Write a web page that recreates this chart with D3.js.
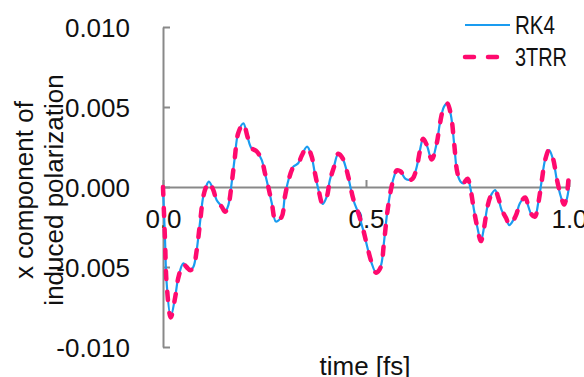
<!DOCTYPE html>
<html>
<head>
<meta charset="utf-8">
<script src="https://cdn.jsdelivr.net/npm/d3@7"></script>
<style>
  html, body { margin: 0; padding: 0; background: #fff; }
  svg { display: block; font-family: 'Liberation Sans', Arial, sans-serif; }
</style>
</head>
<body>
<svg id="chart" width="584" height="377"></svg>
<script>
// time [fs]
const time = [0, 0.005, 0.009, 0.019, 0.030, 0.038, 0.050, 0.058, 0.067, 0.075, 0.083, 0.091, 0.099, 0.106, 0.113,
  0.124, 0.132, 0.145, 0.153, 0.161, 0.169, 0.177, 0.185, 0.198, 0.208, 0.218, 0.231, 0.243, 0.251, 0.259, 0.268,
  0.278, 0.292, 0.300, 0.309, 0.321, 0.333, 0.342, 0.355, 0.366, 0.374, 0.383, 0.393, 0.403, 0.411, 0.421, 0.432,
  0.444, 0.456, 0.469, 0.481, 0.493, 0.503, 0.514, 0.525, 0.536, 0.544, 0.552, 0.561, 0.569, 0.576, 0.585, 0.596,
  0.604, 0.615, 0.625, 0.633, 0.641, 0.651, 0.662, 0.674, 0.682, 0.692, 0.700, 0.709, 0.717, 0.725, 0.733, 0.740,
  0.750, 0.758, 0.766, 0.774, 0.783, 0.791, 0.799, 0.807, 0.818, 0.826, 0.834, 0.845, 0.853, 0.863, 0.871, 0.879,
  0.892, 0.900, 0.908, 0.916, 0.924, 0.933, 0.941, 0.951, 0.961, 0.970, 0.980, 0.988, 0.994, 1.000];

// x component of induced polarization, RK4
const rk4 = [0, -0.00331, -0.00600, -0.00811, -0.00686, -0.00561, -0.00477, -0.00498, -0.00519, -0.00498, -0.00394,
  -0.00225, -0.00061, 0.00002, 0.00033, -0.00019, -0.00081, -0.00123, -0.00154, -0.00113, 0.00023, 0.00189, 0.00336,
  0.00398, 0.00314, 0.00242, 0.00221, 0.00169, 0.00086, 0.00002, -0.00102, -0.00216, -0.00186, -0.00061, 0.00044,
  0.00127, 0.00148, 0.00200, 0.00252, 0.00189, 0.00086, -0.00019, -0.00106, -0.00061, 0.00044, 0.00127, 0.00211,
  0.00169, 0.00064, -0.00081, -0.00164, -0.00269, -0.00373, -0.00477, -0.00536, -0.00498, -0.00352, -0.00164,
  -0.00019, 0.00064, 0.00106, 0.00096, 0.00054, 0.00044, 0.00054, 0.00127, 0.00231, 0.00304, 0.00252, 0.00169,
  0.00273, 0.00398, 0.00502, 0.00523, 0.00450, 0.00273, 0.00086, 0.00033, 0.00023, 0.00054, -0.00019, -0.00144,
  -0.00248, -0.00336, -0.00248, -0.00123, -0.00056, -0.00019, -0.00071, -0.00144, -0.00196, -0.00238, -0.00206,
  -0.00164, -0.00102, -0.00064, -0.00123, -0.00175, -0.00186, -0.00102, 0.00044, 0.00169, 0.00231, 0.00169, 0.00044,
  -0.00061, -0.00113, -0.00081, 0.00002];

// x component of induced polarization, 3TRR
const trr = [0, -0.00335, -0.00605, -0.00815, -0.00690, -0.00565, -0.00480, -0.00500, -0.00520, -0.00500, -0.00396,
  -0.00228, -0.00063, 0.00000, 0.00031, -0.00020, -0.00082, -0.00125, -0.00155, -0.00115, 0.00020, 0.00186, 0.00334,
  0.00396, 0.00316, 0.00244, 0.00222, 0.00170, 0.00088, 0.00004, -0.00100, -0.00214, -0.00188, -0.00064, 0.00040,
  0.00124, 0.00146, 0.00198, 0.00250, 0.00192, 0.00090, -0.00015, -0.00104, -0.00064, 0.00040, 0.00124, 0.00208,
  0.00172, 0.00068, -0.00078, -0.00162, -0.00266, -0.00370, -0.00474, -0.00536, -0.00502, -0.00356, -0.00168,
  -0.00022, 0.00062, 0.00104, 0.00098, 0.00056, 0.00042, 0.00052, 0.00124, 0.00228, 0.00302, 0.00254, 0.00172,
  0.00270, 0.00395, 0.00500, 0.00522, 0.00452, 0.00276, 0.00090, 0.00036, 0.00025, 0.00052, -0.00022, -0.00146,
  -0.00250, -0.00338, -0.00252, -0.00126, -0.00058, -0.00022, -0.00068, -0.00140, -0.00194, -0.00236, -0.00208,
  -0.00166, -0.00104, -0.00066, -0.00120, -0.00172, -0.00186, -0.00106, 0.00040, 0.00166, 0.00232, 0.00174, 0.00050,
  -0.00055, -0.00110, -0.00060, 0.00095];

const seriesNames = ['RK4', '3TRR'];
const yTicks = [-0.01, -0.005, 0, 0.005, 0.01];
const xTicks = [0, 0.5, 1.0];
const xTitle = 'time [fs]';
const yTitle = ['x component of', 'induced polarization'];

const width = 584, height = 377;
const margin = { top: 27, right: 15, bottom: 30, left: 163 };
const axisColor = '#898989';
const fontSize = 26;
const colors = { RK4: '#1a9cf0', '3TRR': '#ff0a6e' };

const svg = d3.select('#chart');

const xScale = d3.scaleLinear([0, 1], [margin.left, width - margin.right]);
const yScale = d3.scaleLinear([-0.01, 0.01], [height - margin.bottom, margin.top]);

// y axis: ticks point into the plot, labels far to the left
svg.append('g')
  .attr('transform', `translate(${margin.left},0)`)
  .call(d3.axisLeft(yScale).tickValues(yTicks).tickSizeInner(-7).tickSizeOuter(0).tickPadding(33)
    .tickFormat((d) => d.toFixed(3)))
  .call((g) => g.select('.domain').attr('stroke', axisColor).attr('stroke-width', 2))
  .call((g) => g.selectAll('.tick line').attr('stroke', axisColor).attr('stroke-width', 2))
  .call((g) => g.selectAll('.tick text').attr('fill', '#111').attr('font-size', fontSize)
    .attr('font-family', null).attr('dy', '0.35em'));

// x axis crosses at zero
svg.append('g')
  .attr('transform', `translate(0,${yScale(0)})`)
  .call(d3.axisBottom(xScale).tickValues(xTicks).tickSizeInner(-7).tickSizeOuter(0).tickPadding(23)
    .tickFormat((d) => d.toFixed(1)))
  .call((g) => g.select('.domain').attr('stroke', axisColor).attr('stroke-width', 2))
  .call((g) => g.selectAll('.tick line').attr('stroke', axisColor).attr('stroke-width', 2))
  .call((g) => g.selectAll('.tick text').attr('fill', '#111').attr('font-size', fontSize)
    .attr('font-family', null));

const line = d3.line()
  .x((d) => xScale(d[0]))
  .y((d) => yScale(d[1]))
  .curve(d3.curveCatmullRom.alpha(0.5));

svg.append('path')
  .datum(d3.zip(time, rk4))
  .attr('d', line)
  .attr('fill', 'none')
  .attr('stroke', colors.RK4)
  .attr('stroke-width', 2.2);

svg.append('path')
  .datum(d3.zip(time, trr))
  .attr('d', line)
  .attr('fill', 'none')
  .attr('stroke', colors['3TRR'])
  .attr('stroke-width', 4.5)
  .attr('stroke-linecap', 'round')
  .attr('stroke-dasharray', '8,13');

// titles
svg.append('text')
  .attr('x', 365)
  .attr('y', 375)
  .attr('text-anchor', 'middle')
  .attr('font-size', fontSize)
  .attr('fill', '#111')
  .text(xTitle);

svg.selectAll('.ytitle')
  .data(yTitle)
  .join('text')
  .attr('class', 'ytitle')
  .attr('transform', (d, i) => `translate(${33 + i * 30},190) rotate(-90)`)
  .attr('text-anchor', 'middle')
  .attr('font-size', fontSize)
  .attr('fill', '#111')
  .text((d) => d);

// legend
const legendWidths = { RK4: 40, '3TRR': 52 };
const legend = svg.append('g').attr('transform', 'translate(465,25)');
const items = legend.selectAll('g')
  .data(seriesNames)
  .join('g')
  .attr('transform', (d, i) => `translate(0,${i * 32})`);

items.append('line')
  .attr('x1', 0).attr('x2', 45)
  .attr('stroke', (d) => colors[d])
  .attr('stroke-width', (d) => (d === 'RK4' ? 2.2 : 4.5))
  .attr('stroke-linecap', (d) => (d === 'RK4' ? 'butt' : 'round'))
  .attr('stroke-dasharray', (d) => (d === 'RK4' ? null : '9,14'));

items.append('text')
  .attr('x', 50)
  .attr('dy', '0.35em')
  .attr('font-size', fontSize)
  .attr('fill', '#111')
  .attr('textLength', (d) => legendWidths[d])
  .attr('lengthAdjust', 'spacingAndGlyphs')
  .text((d) => d);
</script>
</body>
</html>
